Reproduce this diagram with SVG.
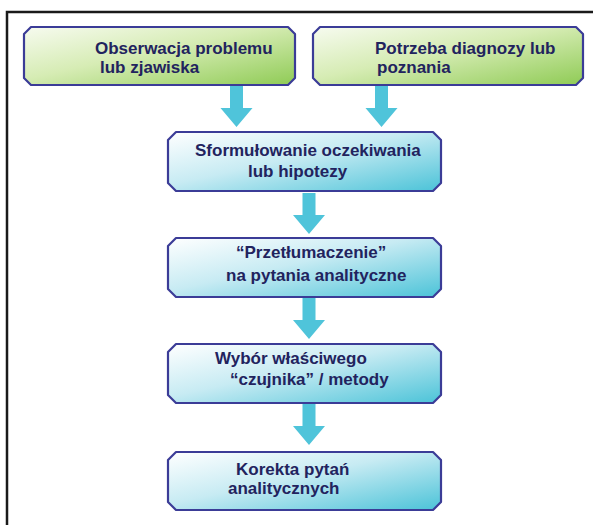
<svg xmlns="http://www.w3.org/2000/svg" width="593" height="525" viewBox="0 0 593 525">
  <defs>
    <linearGradient id="gGreen" x1="0" y1="0" x2="1" y2="1">
      <stop offset="0" stop-color="#f7fbf0"/>
      <stop offset="0.45" stop-color="#d6ecb4"/>
      <stop offset="1" stop-color="#8fcb55"/>
    </linearGradient>
    <linearGradient id="gBlue" x1="0" y1="0" x2="1" y2="1">
      <stop offset="0" stop-color="#ffffff"/>
      <stop offset="0.45" stop-color="#c7ebf3"/>
      <stop offset="1" stop-color="#4bc3d8"/>
    </linearGradient>
    <!-- down arrow, origin at the top of the shaft centre -->
    <path id="arrow" d="M-6.5,0 H6.5 V22 H16 L0,41 L-16,22 H-6.5 Z"/>
  </defs>
  <style>
    .box { stroke: #3b3c97; stroke-width: 2.2; stroke-linejoin: round; }
    .green { fill: url(#gGreen); }
    .blue { fill: url(#gBlue); }
    .lbl { font-family: "Liberation Sans", Arial, sans-serif; font-weight: bold; font-size: 17px; fill: #22235e; }
    .arr { fill: #4fc4da; }
  </style>

  <rect width="593" height="525" fill="#ffffff"/>
  <!-- frame -->
  <path d="M7,525 V12 H593" fill="none" stroke="#1a1a1a" stroke-width="2.5"/>

  <g id="connectors">
    <use href="#arrow" class="arr" x="236.5" y="86"/>
    <use href="#arrow" class="arr" x="381.5" y="86"/>
    <use href="#arrow" class="arr" x="309" y="193"/>
    <use href="#arrow" class="arr" x="309" y="298"/>
    <use href="#arrow" class="arr" x="309" y="404"/>
  </g>

  <g id="n1">
    <path class="box green" d="M31,27 H288 L295,34 V78 L288,85 H31 L24,78 V34 Z"/>
    <text class="lbl" x="95" y="54">Obserwacja problemu</text>
    <text class="lbl" x="100" y="73">lub zjawiska</text>
  </g>

  <g id="n2">
    <path class="box green" d="M320,27 H576 L583,34 V78 L576,85 H320 L313,78 V34 Z"/>
    <text class="lbl" x="375" y="54">Potrzeba diagnozy lub</text>
    <text class="lbl" x="377" y="73">poznania</text>
  </g>

  <g id="n3">
    <path class="box blue" d="M176,132 H433 L441,140 V183 L433,191 H176 L168,183 V140 Z"/>
    <text class="lbl" x="195" y="156">Sformułowanie oczekiwania</text>
    <text class="lbl" x="248" y="177">lub hipotezy</text>
  </g>

  <g id="n4">
    <path class="box blue" d="M176,238 H433 L441,246 V289 L433,297 H176 L168,289 V246 Z"/>
    <text class="lbl" x="236" y="258">“Przetłumaczenie”</text>
    <text class="lbl" x="226" y="281">na pytania analityczne</text>
  </g>

  <g id="n5">
    <path class="box blue" d="M176,344 H433 L441,352 V395 L433,403 H176 L168,395 V352 Z"/>
    <text class="lbl" x="215" y="364">Wybór właściwego</text>
    <text class="lbl" x="230" y="385">“czujnika” / metody</text>
  </g>

  <g id="n6">
    <path class="box blue" d="M176,452 H433 L441,460 V502 L433,510 H176 L168,502 V460 Z"/>
    <text class="lbl" x="236" y="475">Korekta pytań</text>
    <text class="lbl" x="228" y="494">analitycznych</text>
  </g>
</svg>
